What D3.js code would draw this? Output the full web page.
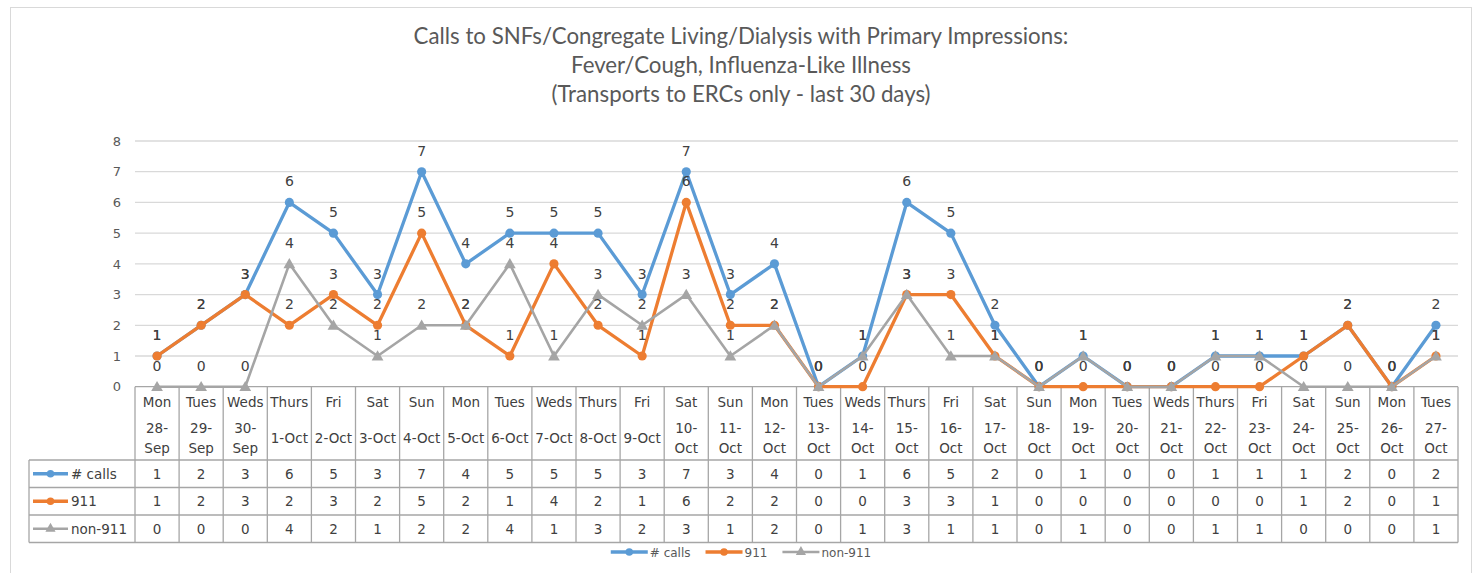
<!DOCTYPE html>
<html><head><meta charset="utf-8">
<script src="https://cdn.jsdelivr.net/npm/d3@7"></script>
<style>body{margin:0;background:#fff;} svg{display:block}</style>
</head><body><svg id="c" width="1477" height="573"></svg>
<script>
// ---------- DATA ----------
const days = ["Mon","Tues","Weds","Thurs","Fri","Sat","Sun","Mon","Tues","Weds","Thurs","Fri","Sat","Sun","Mon","Tues","Weds","Thurs","Fri","Sat","Sun","Mon","Tues","Weds","Thurs","Fri","Sat","Sun","Mon","Tues"];
const dates = ["28-Sep","29-Sep","30-Sep","1-Oct","2-Oct","3-Oct","4-Oct","5-Oct","6-Oct","7-Oct","8-Oct","9-Oct","10-Oct","11-Oct","12-Oct","13-Oct","14-Oct","15-Oct","16-Oct","17-Oct","18-Oct","19-Oct","20-Oct","21-Oct","22-Oct","23-Oct","24-Oct","25-Oct","26-Oct","27-Oct"];
const calls   = [1,2,3,6,5,3,7,4,5,5,5,3,7,3,4,0,1,6,5,2,0,1,0,0,1,1,1,2,0,2];
const s911    = [1,2,3,2,3,2,5,2,1,4,2,1,6,2,2,0,0,3,3,1,0,0,0,0,0,0,1,2,0,1];
const non911  = [0,0,0,4,2,1,2,2,4,1,3,2,3,1,2,0,1,3,1,1,0,1,0,0,1,1,0,0,0,1];
const seriesNames = ["# calls","911","non-911"];
const yTicks = [0,1,2,3,4,5,6,7,8];
const titleLines = ["Calls to SNFs/Congregate Living/Dialysis with Primary Impressions:","Fever/Cough, Influenza-Like Illness","(Transports to ERCs only - last 30 days)"];

// ---------- STYLE ----------
const colors = ["#5B9BD5","#ED7D31","#A5A5A5"];
const widths = [3.3,3.3,2.6];
const symbols = [d3.symbolCircle,d3.symbolCircle,d3.symbolTriangle];
const FONT = "'DejaVu Sans', Verdana, sans-serif";
const series = [calls, s911, non911];

const svg = d3.select("#c");
svg.append("rect").attr("x",10.5).attr("y",7.5).attr("width",1461).attr("height",600)
  .attr("fill","#fff").attr("stroke","#d9d9d9").attr("stroke-width",1);

// Title
const tl = svg.append("g").selectAll("text").data(titleLines).join("text")
  .attr("x",741).attr("y",(d,i)=>44+i*29).attr("text-anchor","middle")
  .attr("font-family","Lato,'Open Sans',sans-serif").attr("font-size",20)
  .attr("fill","#595959").text(d=>d);
{
  const w = tl.nodes()[0].getComputedTextLength();
  tl.attr("font-size",20*655/w);
}

// Scales
const plotL=135, plotR=1458, plotT=141, plotB=386.7;
const x = d3.scaleBand().domain(d3.range(days.length)).range([plotL,plotR]);
const bw = x.bandwidth();
const cx = i => x(i)+bw/2;
const y = d3.scaleLinear().domain([0,8]).range([plotB,plotT]);

// Gridlines
svg.append("g").selectAll("line").data(yTicks.filter(t=>t>0)).join("line")
  .attr("x1",plotL).attr("x2",plotR).attr("y1",d=>y(d)).attr("y2",d=>y(d))
  .attr("stroke","#d9d9d9").attr("stroke-width",1.3);

// Y axis
const yAxis = d3.axisLeft(y).tickValues(yTicks).tickSize(0).tickPadding(0);
const ya = svg.append("g").attr("transform","translate(121,0)").call(yAxis);
ya.select(".domain").remove();
ya.selectAll("text").attr("font-family",FONT).attr("font-size",13).attr("fill","#595959");

// Table
const tableStroke = "#a6a6a6";
const hdrBottom = 460, rowH = 27.5, legL = 29;
const rowYs = [hdrBottom, hdrBottom+rowH, hdrBottom+2*rowH, hdrBottom+3*rowH];
const tg = svg.append("g");
tg.append("line").attr("x1",plotL).attr("x2",plotR).attr("y1",plotB).attr("y2",plotB).attr("stroke",tableStroke).attr("stroke-width",1.3);
tg.selectAll("line.h").data(rowYs).join("line").attr("class","h")
  .attr("x1",legL).attr("x2",plotR).attr("y1",d=>d).attr("y2",d=>d).attr("stroke",tableStroke).attr("stroke-width",1.3);
tg.selectAll("line.v").data(d3.range(days.length+1)).join("line").attr("class","v")
  .attr("x1",i=>plotL+i*bw).attr("x2",i=>plotL+i*bw).attr("y1",plotB).attr("y2",rowYs[3])
  .attr("stroke",tableStroke).attr("stroke-width",1.3);
tg.append("line").attr("x1",legL).attr("x2",legL).attr("y1",rowYs[0]).attr("y2",rowYs[3]).attr("stroke",tableStroke).attr("stroke-width",1.3);

// Header text
const hg = svg.append("g").attr("font-family",FONT).attr("font-size",13.5).attr("fill","#404040").attr("text-anchor","middle");
days.forEach((d,i)=>{
  hg.append("text").attr("x",cx(i)).attr("y",406.5).text(d);
  const t = hg.append("text").attr("x",cx(i)).attr("y",442.5).text(dates[i]);
  if (t.node().getComputedTextLength() > bw-4) {
    const parts = dates[i].split("-");
    t.attr("y",432.5).text(parts[0]+"-");
    hg.append("text").attr("x",cx(i)).attr("y",453).text(parts[1]);
  }
});

// Data rows
const dg = svg.append("g").attr("font-family",FONT).attr("font-size",13.5).attr("fill","#404040");
series.forEach((s,k)=>{
  const yc = rowYs[k]+rowH/2;
  dg.selectAll(null).data(s).join("text").attr("text-anchor","middle")
    .attr("x",(d,i)=>cx(i)).attr("y",yc+5).text(d=>d);
  dg.append("line").attr("x1",33).attr("x2",68).attr("y1",yc).attr("y2",yc)
    .attr("stroke",colors[k]).attr("stroke-width",widths[k]);
  dg.append("path").attr("d",d3.symbol(symbols[k],45)()).attr("transform",`translate(50.5,${yc})`).attr("fill",colors[k]);
  dg.append("text").attr("x",71).attr("y",yc+5).text(seriesNames[k]);
});

// Lines & markers
const line = d3.line().x((d,i)=>cx(i)).y(d=>y(d));
series.forEach((s,k)=>{
  const g = svg.append("g");
  g.append("path").datum(s).attr("d",line).attr("fill","none")
    .attr("stroke",colors[k]).attr("stroke-width",widths[k]).attr("stroke-linejoin","round");
  g.selectAll("path.m").data(s).join("path").attr("class","m")
    .attr("d",d3.symbol(symbols[k],k==2?60:66)())
    .attr("transform",(d,i)=>`translate(${cx(i)},${y(d)+(k==2?1:0)})`)
    .attr("fill",colors[k]);
});

// Data labels
const lg = svg.append("g").attr("font-family",FONT).attr("font-size",14).attr("fill","#404040").attr("text-anchor","middle");
series.forEach((s,k)=>{
  lg.selectAll(null).data(s).join("text").attr("x",(d,i)=>cx(i)).attr("y",d=>y(d)-16).text(d=>d);
});

// Legend
const leg = svg.append("g").attr("font-family",FONT).attr("font-size",12).attr("fill","#595959");
const items = [];
seriesNames.forEach((n,k)=>{
  const g = leg.append("g");
  g.append("line").attr("x1",0).attr("x2",37).attr("y1",0).attr("y2",0).attr("stroke",colors[k]).attr("stroke-width",widths[k]);
  g.append("path").attr("d",d3.symbol(symbols[k],45)()).attr("transform","translate(18.5,0)").attr("fill",colors[k]);
  const t = g.append("text").attr("x",39).attr("y",4.5).text(n);
  items.push({g, w: 39 + t.node().getComputedTextLength()});
});
const gap = 15;
const total = d3.sum(items,d=>d.w) + gap*(items.length-1);
let lx = 741 - total/2;
items.forEach(it=>{ it.g.attr("transform",`translate(${lx},552)`); lx += it.w+gap; });
</script></body></html>
